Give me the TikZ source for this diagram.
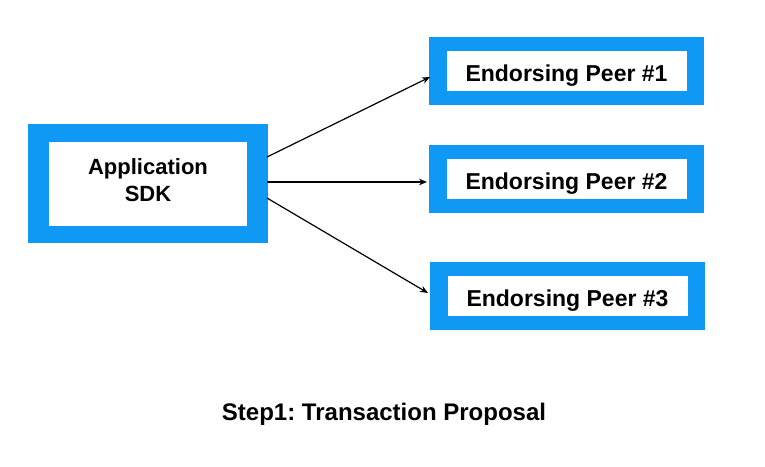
\documentclass[tikz,border=0pt]{standalone}
\usepackage{fontspec}
\setmainfont{Liberation Sans}
\usetikzlibrary{arrows.meta}
\frenchspacing
\definecolor{sdkblue}{RGB}{16,152,245}
\newcommand\innerwhite[3]{{\setlength\fboxsep{0pt}\colorbox{white}{\parbox[c][#2][c]{#1}{\centering #3}}}}
\tikzset{
  appbox/.style={fill=sdkblue, inner xsep=21pt, inner ysep=17.5pt, outer sep=0pt},
  peerbox/.style={fill=sdkblue, inner xsep=17.5pt, inner ysep=14pt, outer sep=0pt},
  conn/.style={line width=1.2pt, -{Stealth[length=8pt,width=6.5pt]}},
}
\begin{document}
\begin{tikzpicture}[x=1pt,y=-1pt]
\useasboundingbox[fill=white] (0,0) rectangle (765,466);
\node[appbox] (app) at (148,183.5)
  {\innerwhite{198pt}{84pt}{\raisebox{9.5pt}[0pt][0pt]{\parbox[t]{198pt}{\centering\fontsize{22}{27}\selectfont\bfseries Application\\SDK}}}};
\node[peerbox] (p1) at (566.5,71)
  {\innerwhite{240pt}{40pt}{\raisebox{-10.5pt}[0pt][0pt]{\fontsize{23}{27}\selectfont\bfseries Endorsing Peer \#1}}};
\node[peerbox] (p2) at (566.5,178.5)
  {\innerwhite{240pt}{40pt}{\raisebox{-10.5pt}[0pt][0pt]{\fontsize{23}{27}\selectfont\bfseries Endorsing Peer \#2}}};
\node[peerbox] (p3) at (567.5,295.5)
  {\innerwhite{240pt}{40pt}{\raisebox{-10.5pt}[0pt][0pt]{\fontsize{23}{27}\selectfont\bfseries Endorsing Peer \#3}}};
\draw[conn] ([yshift=26.5pt,xshift=-1pt]app.east) -- ([yshift=-6pt,xshift=1pt]p1.west);
\draw[conn] ([yshift=1.5pt,xshift=-1pt]app.east) -- ([yshift=-3.5pt,xshift=-2pt]p2.west);
\draw[conn] ([yshift=-14.5pt,xshift=-1pt]app.east) -- ([yshift=2.5pt,xshift=-2pt]p3.west);
\node[anchor=base, inner sep=0pt] (title) at (384,420)
  {\fontsize{24}{28}\selectfont\bfseries Step1: Transaction Proposal};
\end{tikzpicture}
\end{document}
